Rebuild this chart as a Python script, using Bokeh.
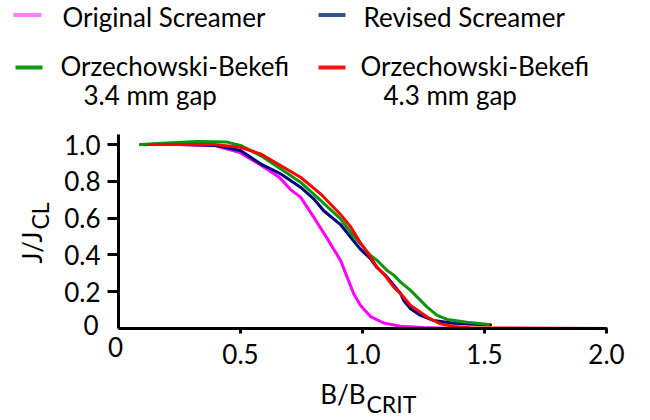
import math
from bokeh.plotting import figure
from bokeh.models import Range1d, FixedTicker
from bokeh.core.properties import value
from bokeh.embed import file_html
from bokeh.resources import INLINE

# ---------------- data ----------------
orig_x = [0.10, 0.25, 0.39, 0.495, 0.575, 0.66, 0.705, 0.746, 0.80, 0.855, 0.91, 0.937,
          0.964, 0.992, 1.033, 1.087, 1.156, 1.25, 1.35]
orig_y = [1.00, 1.00, 0.995, 0.958, 0.895, 0.82, 0.755, 0.714, 0.605, 0.49, 0.37, 0.279,
          0.189, 0.125, 0.065, 0.03, 0.012, 0.005, 0.002]

rev_x = [0.09, 0.25, 0.40, 0.50, 0.582, 0.664, 0.746, 0.80, 0.841, 0.91, 0.964, 0.992,
         1.033, 1.06, 1.101, 1.128, 1.156, 1.169, 1.197, 1.238, 1.292, 1.374, 1.45,
         1.525]
rev_y = [1.00, 1.00, 0.995, 0.967, 0.895, 0.841, 0.768, 0.705, 0.64, 0.565, 0.475, 0.43,
         0.379, 0.33, 0.279, 0.235, 0.189, 0.152, 0.107, 0.071, 0.043, 0.029, 0.023,
         0.02]

ob34_x = [0.09, 0.20, 0.322, 0.445, 0.50, 0.582, 0.664, 0.746, 0.828, 0.91, 0.964, 0.992,
          1.033, 1.06, 1.101, 1.128, 1.156, 1.197, 1.265, 1.306, 1.347, 1.429, 1.517]
ob34_y = [1.00, 1.008, 1.016, 1.013, 0.995, 0.94, 0.868, 0.795, 0.696, 0.596, 0.50, 0.46,
          0.397, 0.37, 0.315, 0.29, 0.252, 0.207, 0.116, 0.071, 0.049, 0.034, 0.022]

ob43_x = [0.124, 0.25, 0.39, 0.50, 0.582, 0.664, 0.746, 0.828, 0.91, 0.95, 0.992, 1.033,
          1.06, 1.087, 1.128, 1.156, 1.197, 1.265, 1.32, 1.374, 1.45, 2.00]
ob43_y = [1.00, 1.00, 1.00, 0.985, 0.949, 0.886, 0.822, 0.732, 0.62, 0.555, 0.465, 0.388,
          0.333, 0.297, 0.225, 0.19, 0.125, 0.062, 0.025, 0.011, 0.003, 0.0]

x_ticks = [0.5, 1.0, 1.5, 2.0]
x_tick_labels = ["0.5", "1.0", "1.5", "2.0"]
y_ticks = [0.2, 0.4, 0.6, 0.8, 1.0]
y_tick_labels = ["0.2", "0.4", "0.6", "0.8", "1.0"]
zero_label = "0"

legend_names = ["Original Screamer", "Revised Screamer",
                "Orzechowski-Bekefi", "Orzechowski-Bekefi"]
legend_sub = ["3.4 mm gap", "4.3 mm gap"]
line_colors = ["#FF00FF", "#000080", "#0A960A", "#FF0000"]
swatch_colors = ["#FF80FF", "#2F5597", "#109A10", "#FF1010"]

x_title, x_title_sub = "B/B", "CRIT"
y_title, y_title_sub = "J/J", "CL"

FONT = "Lato"
W, H = 650, 420
# pixel geometry of the plotting area
X0PX, XPX_PER_UNIT = 118.0, 244.0   # x = 0 at px 118, 0.5 per 122 px
Y0PX, YPX_PER_UNIT = 328.0, 184.0   # y = 0 at px 328, 0.2 per 36.8 px
BASE_FIX = 9.0                       # baseline compensation (px)


def X(px):
    return (px - X0PX) / XPX_PER_UNIT


def Y(py):
    return (Y0PX - py) / YPX_PER_UNIT


p = figure(width=W, height=H, x_range=Range1d(X(0), X(W)), y_range=Range1d(Y(H), Y(0)),
           toolbar_location=None, output_backend="svg", min_border=0,
           outline_line_color=None)
p.grid.visible = False

for xs, ys, c in [(orig_x, orig_y, line_colors[0]), (rev_x, rev_y, line_colors[1]),
                  (ob34_x, ob34_y, line_colors[2]), (ob43_x, ob43_y, line_colors[3])]:
    p.line(xs, ys, line_color=c, line_width=3, line_join="round", line_cap="round")

for ax in (p.xaxis[0], p.yaxis[0]):
    ax.fixed_location = 0
    ax.axis_line_width = 3
    ax.axis_line_color = "black"
    ax.major_tick_line_width = 3
    ax.major_tick_line_color = "black"
    ax.major_tick_in = 0
    ax.minor_tick_line_color = None
    ax.major_label_text_font = FONT
    ax.major_label_text_font_size = "26px"
    ax.major_label_text_color = "black"

p.xaxis.bounds = (0, 2.0)
p.xaxis.ticker = FixedTicker(ticks=x_ticks)
p.xaxis.major_label_overrides = dict(zip(x_ticks, x_tick_labels))
p.xaxis.major_tick_out = 5
p.xaxis.major_label_standoff = 10

p.yaxis.bounds = (0, Y(134))
p.yaxis.ticker = FixedTicker(ticks=y_ticks)
p.yaxis.major_label_overrides = dict(zip(y_ticks, y_tick_labels))
p.yaxis.major_tick_out = 11
p.yaxis.major_label_standoff = 7


def txt(xs, ys, texts, size="26px", align="left", angle=0.0):
    p.text(x=xs, y=ys, text=texts, text_font=value(FONT), text_font_size=size,
           text_color="black", text_align=align, text_baseline="alphabetic",
           angle=angle)


# ---------------- legend ----------------
sw_x0 = [13, 318, 15, 318]
sw_x1 = [41, 345, 42, 345]
sw_y = [14.5, 14.5, 67, 67]
p.segment(x0=[X(v) for v in sw_x0], y0=[Y(v) for v in sw_y],
          x1=[X(v) for v in sw_x1], y1=[Y(v) for v in sw_y],
          line_color=swatch_colors, line_width=4)
lx = [62, 363, 60, 360]
ly = [25, 25, 74, 74]
txt([X(v) for v in lx], [Y(v - BASE_FIX) for v in ly], legend_names)
txt([X(83), X(383)], [Y(103 - BASE_FIX)] * 2, legend_sub)

# zero labels at the axes corner
txt([X(115)], [Y(355 - BASE_FIX)], [zero_label], align="center")
txt([X(98)], [Y(333 - BASE_FIX)], [zero_label], align="right")

# x axis title B/B_CRIT
txt([X(365)], [Y(402 - BASE_FIX)], [x_title], align="right")
txt([X(366)], [Y(412 - BASE_FIX)], [x_title_sub], size="23px", align="left")

# y axis title J/J_CL (rotated)
txt([X(40 - BASE_FIX)], [Y(231)], [y_title], align="right", angle=math.pi / 2)
txt([X(48 - BASE_FIX)], [Y(229)], [y_title_sub], size="23px", align="left",
    angle=math.pi / 2)

open("out.html", "w").write(file_html(p, INLINE))
